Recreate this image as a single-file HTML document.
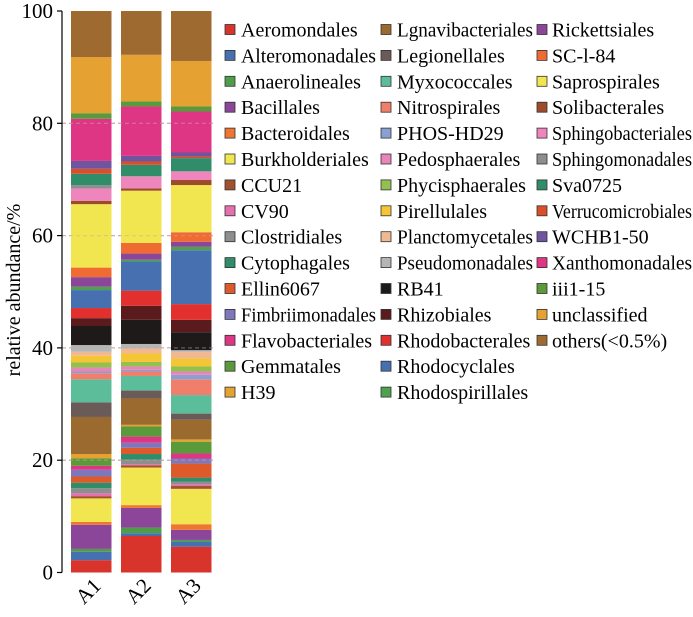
<!DOCTYPE html>
<html><head><meta charset="utf-8"><style>
html,body{margin:0;padding:0;background:#fff;}
svg, svg text{font-family:"Liberation Serif","Noto Serif CJK SC","DejaVu Serif",serif;}
</style></head><body>
<svg id="chart" width="693" height="612" viewBox="0 0 693 612" xmlns="http://www.w3.org/2000/svg">
<g id="grid"></g>
<g id="bars"></g>
<g id="axes"></g>
<g id="legend"></g>
</svg>
<script>
const categories = ["A1","A2","A3"];
const seriesNames = ["Aeromondales","Alteromonadales","Anaerolineales","Bacillales","Bacteroidales","Burkholderiales","CCU21","CV90","Clostridiales","Cytophagales","Ellin6067","Fimbriimonadales","Flavobacteriales","Gemmatales","H39","Lgnavibacteriales","Legionellales","Myxococcales","Nitrospirales","PHOS-HD29","Pedosphaerales","Phycisphaerales","Pirellulales","Planctomycetales","Pseudomonadales","RB41","Rhizobiales","Rhodobacterales","Rhodocyclales","Rhodospirillales","Rickettsiales","SC-I-84","Saprospirales","Solibacterales","Sphingobacteriales","Sphingomonadales","Sva0725","Verrucomicrobiales","WCHB1-50","Xanthomonadales","iii1-15","unclassified","others(<0.5%)"];
const legendLabels = ["Aeromondales","Alteromonadales","Anaerolineales","Bacillales","Bacteroidales","Burkholderiales","CCU21","CV90","Clostridiales","Cytophagales","Ellin6067","Fimbriimonadales","Flavobacteriales","Gemmatales","H39","Lgnavibacteriales","Legionellales","Myxococcales","Nitrospirales","PHOS-HD29","Pedosphaerales","Phycisphaerales","Pirellulales","Planctomycetales","Pseudomonadales"," RB41","Rhizobiales","Rhodobacterales","Rhodocyclales","Rhodospirillales","Rickettsiales","SC-l-84","Saprospirales","Solibacterales","Sphingobacteriales","Sphingomonadales","Sva0725","Verrucomicrobiales","WCHB1-50","Xanthomonadales","iii1-15","unclassified","others(<0.5%)"];
const seriesColors = ["#d9342b","#4670b0","#4f9d48","#8c4699","#ee7631","#f1e64f","#a0522d","#e66fb0","#8e8e8e","#2f8d6a","#df5a2a","#7d78bd","#de3584","#5b9a3a","#e5a132","#9b6a2e","#6a5a58","#5cbd9a","#ef7f6a","#8aa0d2","#e886b7","#92c14f","#f4c534","#f1b98f","#b5b5b5","#1f1a1a","#5b1a1c","#e2302e","#4670b0","#4ca24f","#8c4699","#ef6b31","#f1e64f","#9c4b2b","#ee85bd","#8e8e8e","#2f8d6a","#d94f2a","#6f54a0","#de3584","#5b9a3a","#e5a132","#9f6a30"];
const valuesA1 = [2.2,1.5,0.5,4.3,0.5,4.2,0.4,0.5,0.9,1.0,1.1,1.2,0.7,1.3,0.8,6.6,2.6,4.1,1.1,0.3,0.7,0.9,1.2,0.7,1.2,3.4,1.4,1.8,3.2,0.6,1.7,1.7,11.3,0.6,2.2,0.6,2.0,0.9,1.4,7.5,1.0,10.0,8.2];
const valuesA2 = [6.5,0.5,1.0,3.5,0.5,6.7,0.4,0.2,0.8,1.0,1.1,0.9,1.1,1.8,0.3,4.7,1.4,2.6,0.8,0.3,0.6,0.8,1.5,0.9,0.8,4.3,2.5,2.7,5.2,0.3,1.1,1.9,9.3,0.4,2.1,0.1,2.0,0.6,1.0,8.8,0.9,8.3,7.8];
const valuesA3 = [4.6,0.9,0.3,1.8,1.0,6.3,0.5,0.3,0.5,0.7,2.5,0.9,0.9,2.1,0.4,3.5,1.1,3.3,2.8,0.8,0.6,0.9,1.4,1.2,0.3,3.2,2.2,2.8,9.6,0.6,0.9,1.7,8.4,0.9,1.5,0.1,2.3,0.3,0.7,7.3,0.9,8.1,8.9];
const yTicks = [0,20,40,60,80,100];
const gridTicks = [20,40,60,80];

const NS="http://www.w3.org/2000/svg";
const Y0=572.5, Y1=11, YMIN=0, YMAX=100;
function yScale(v){return Y0-(v-YMIN)/(YMAX-YMIN)*(Y0-Y1);}
const X0=71, STEP=50, BW=40.5;
function xScale(i){return X0+i*STEP;}
function mk(tag,parent){const e=document.createElementNS(NS,tag);parent.appendChild(e);return e;}
const allValues=[valuesA1,valuesA2,valuesA3];

const grid=document.getElementById('grid');
gridTicks.forEach(t=>{
  const l=mk('line',grid);
  
  
  l.setAttribute('x1',62);l.setAttribute('x2',213);
  l.setAttribute('y1',yScale(t));l.setAttribute('y2',yScale(t));
  l.setAttribute('stroke','#d8b8b8');l.setAttribute('stroke-width','1.3');l.setAttribute('stroke-dasharray','4,3');
});

const bars=document.getElementById('bars');
categories.forEach((c,ci)=>{
  const g=mk('g',bars);
  
  
  let cum=0;
  allValues[ci].forEach((v,si)=>{
    const r=mk('rect',g);
    
    
    r.setAttribute('x',xScale(ci));r.setAttribute('width',BW);
    r.setAttribute('y',yScale(cum+v));r.setAttribute('height',Math.max(0,yScale(cum)-yScale(cum+v)));
    r.setAttribute('fill',seriesColors[si]);
    cum+=v;
  });
});
gridTicks.forEach(t=>{
  const l=mk('line',bars);
  
  
  l.setAttribute('x1',62);l.setAttribute('x2',213);
  l.setAttribute('y1',yScale(t));l.setAttribute('y2',yScale(t));
  l.setAttribute('stroke','#c8a8a8');l.setAttribute('stroke-opacity','0.45');l.setAttribute('stroke-width','1.3');l.setAttribute('stroke-dasharray','4,3');
});

const axes=document.getElementById('axes');
const yl=mk('line',axes);


yl.setAttribute('x1',62);yl.setAttribute('x2',62);yl.setAttribute('y1',Y1);yl.setAttribute('y2',Y0);
yl.setAttribute('stroke','#000');yl.setAttribute('stroke-width','1.2');
yTicks.forEach(t=>{
  const tk=mk('line',axes);
  
  
  tk.setAttribute('x1',57);tk.setAttribute('x2',62);tk.setAttribute('y1',yScale(t));tk.setAttribute('y2',yScale(t));
  tk.setAttribute('stroke','#000');tk.setAttribute('stroke-width','1.2');
  const tx=mk('text',axes);
  
  
  tx.setAttribute('x',53);tx.setAttribute('y',yScale(t)+7);tx.setAttribute('text-anchor','end');tx.setAttribute('font-size','21');
  tx.textContent=t;
});
const ytitle=mk('text',axes);


ytitle.setAttribute('transform','translate(20,290) rotate(-90)');
ytitle.setAttribute('text-anchor','middle');ytitle.setAttribute('font-size','20');
ytitle.textContent='relative abundance/%';
categories.forEach((c,ci)=>{
  const tx=mk('text',axes);
  
  
  const cx=xScale(ci)+BW/2+6, cy=582;
  tx.setAttribute('transform','translate('+cx+','+cy+') rotate(-45)');
  tx.setAttribute('text-anchor','end');tx.setAttribute('font-size','21');tx.setAttribute('dy','7');
  tx.textContent=c;
});

const legend=document.getElementById('legend');
const colX=[225,381,537], colTextX=[241,397,552], colMax=[376,533,692];
legendLabels.forEach((name,i)=>{
  const col=Math.floor(i/15), row=i%15;
  const cy=29.5+row*25.9;
  const g=mk('g',legend);
  
  
  const r=mk('rect',g);
  
  
  r.setAttribute('x',colX[col]);r.setAttribute('y',cy-5);r.setAttribute('width',10);r.setAttribute('height',10);
  r.setAttribute('fill',seriesColors[i]);r.setAttribute('stroke','#333');r.setAttribute('stroke-width','0.8');
  const t=mk('text',g);
  
  
  t.setAttribute('x',colTextX[col]);t.setAttribute('y',cy+7);t.setAttribute('font-size','20');
  t.setAttribute('xml:space','preserve');
  t.textContent=name;
  const avail=colMax[col]-colTextX[col];
  const w=t.getComputedTextLength();
  if(w>avail){t.setAttribute('textLength',avail);t.setAttribute('lengthAdjust','spacingAndGlyphs');}
});
</script>
</body></html>
